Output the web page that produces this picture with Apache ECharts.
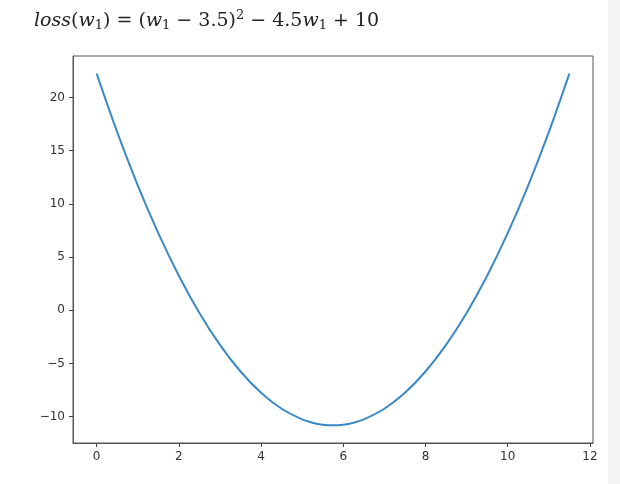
<!DOCTYPE html>
<html>
<head>
<meta charset="utf-8">
<script src="https://cdn.jsdelivr.net/npm/echarts@6/dist/echarts.min.js"></script>
<style>
  html, body { margin: 0; padding: 0; background: #fff; }
  #chart { width: 620px; height: 484px; }
</style>
</head>
<body>
<div id="chart"></div>
<script>
// values
const w1 = [0, 0.5, 1, 1.5, 2, 2.5, 3, 3.5, 4, 4.5, 5, 5.25, 5.5, 5.75, 6, 6.25, 6.5, 7, 7.5, 8, 8.5, 9, 9.5, 10, 10.5, 11, 11.5]
const loss = [22.25, 16.75, 11.75, 7.25, 3.25, -0.25, -3.25, -5.75, -7.75, -9.25, -10.25, -10.56, -10.75, -10.81, -10.75, -10.56, -10.25, -9.25, -7.75, -5.75, -3.25, -0.25, 3.25, 7.25, 11.75, 16.75, 22.25]
const xTicks = [0, 2, 4, 6, 8, 10, 12]
const yTicks = [-10, -5, 0, 5, 10, 15, 20]

const chart = echarts.init(document.getElementById('chart'))

const minus = v => String(v).replace('-', '\u2212')
const tickFont = { color: '#333', fontSize: 12, fontFamily: 'DejaVu Sans' }
const serif = { fontFamily: 'DejaVu Serif', fontWeight: 'normal', color: '#222', lineHeight: 28, verticalAlign: 'middle' }

chart.setOption({
  animation: false,
  backgroundColor: '#fff',
  title: {
    left: 29,
    top: 2,
    text: '{i|loss}{n|(}{i|w}{s|1}{n|) = (}{i|w}{s|1}{n| − 3.5)}{p|2}{n| − 4.5}{i|w}{s|1}{n| + 10}',
    textStyle: {
      fontWeight: 'normal',
      rich: {
        i: { ...serif, fontStyle: 'italic', fontSize: 19 },
        n: { ...serif, fontSize: 19 },
        s: { ...serif, fontSize: 13, padding: [9, 0, 0, 0] },
        p: { ...serif, fontSize: 13, padding: [0, 0, 11, 0] }
      }
    }
  },
  graphic: [{
    type: 'rect', right: 0, top: 0,
    shape: { width: 12, height: 484 },
    style: { fill: '#f4f4f4' }, silent: true
  }],
  grid: {
    left: 73, right: 27, top: 56, bottom: 41,
    show: true, borderColor: '#555', borderWidth: 1
  },
  xAxis: {
    type: 'value',
    min: -0.575, max: 12.075,
    axisLine: { show: true, onZero: false, lineStyle: { color: '#555' } },
    axisTick: { show: true, length: 4, customValues: xTicks, lineStyle: { color: '#444' } },
    axisLabel: { customValues: xTicks, margin: 8, ...tickFont },
    splitLine: { show: false }
  },
  yAxis: {
    type: 'value',
    min: -12.47, max: 23.9,
    axisLine: { show: true, onZero: false, lineStyle: { color: '#555' } },
    axisTick: { show: true, length: 4, customValues: yTicks, lineStyle: { color: '#444' } },
    axisLabel: { customValues: yTicks, margin: 8, formatter: minus, ...tickFont },
    splitLine: { show: false }
  },
  series: [{
    type: 'line',
    data: w1.map((x, i) => [x, loss[i]]),
    smooth: 0.3,
    showSymbol: false,
    lineStyle: { color: '#3a89c4', width: 2 }
  }]
})

window.addEventListener('resize', () => chart.resize())
</script>
</body>
</html>
